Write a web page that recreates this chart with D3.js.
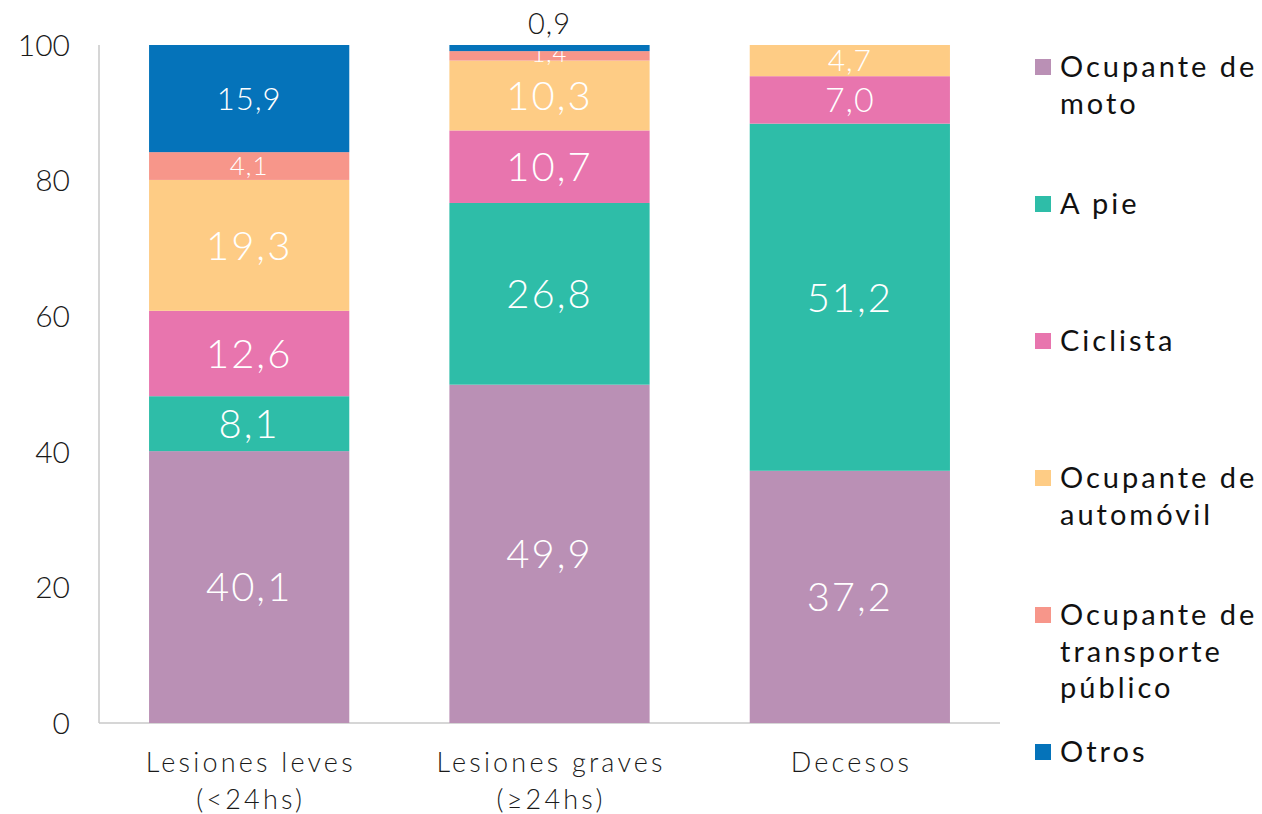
<!DOCTYPE html>
<html><head><meta charset="utf-8">
<script src="https://cdn.jsdelivr.net/npm/d3@7"></script>
<style>body{margin:0;background:#fff}svg{display:block}text{font-family:Lato,"Open Sans",sans-serif}</style>
</head><body><svg id="c" width="1262" height="814"></svg>
<script>
const categories = [["Lesiones leves","(<24hs)"],["Lesiones graves","(≥24hs)"],["Decesos"]];
const catKeys = ["leves","graves","decesos"];
const seriesNames = [["Ocupante de","moto"],["A pie"],["Ciclista"],["Ocupante de","automóvil"],["Ocupante de","transporte","público"],["Otros"]];
const moto = [40.1, 49.9, 37.2];
const pie = [8.1, 26.8, 51.2];
const ciclista = [12.6, 10.7, 7.0];
const auto = [19.3, 10.3, 4.7];
const transporte = [4.1, 1.4, 0];
const otros = [15.9, 0.9, 0];
const colors = ["#BA90B5","#2EBDA8","#E875AE","#FECC85","#F7968A","#0573BA"];
const yTicks = [0,20,40,60,80,100];

// label font sizes (style only), keyed by category index - series index
const labelSizeOverride = {"0-5":31, "0-4":26, "1-4":24, "1-5":29, "2-2":34, "2-3":30};

const series = [moto, pie, ciclista, auto, transporte, otros];
const svg = d3.select("#c");
const x = d3.scaleBand().domain(catKeys).range([99,1000]).paddingInner(1/3).paddingOuter(1/6);
const y = d3.scaleLinear().domain([0,100]).range([723,45]);
const fmt = v => v.toFixed(1).replace(".", ",");

// axes
svg.append("line").attr("x1",99).attr("x2",99).attr("y1",y(100)).attr("y2",y(0)).attr("stroke","#c8c8c8").attr("stroke-width",1.5);
svg.append("line").attr("x1",99).attr("x2",1000).attr("y1",y(0)).attr("y2",y(0)).attr("stroke","#c8c8c8").attr("stroke-width",1.5);
svg.selectAll(".yt").data(yTicks).enter().append("text")
  .attr("x",70).attr("y",d=>y(d)).attr("dy","0.36em").attr("text-anchor","end")
  .attr("font-size",30).attr("font-weight",300).attr("fill","#1a1a1a").text(d=>d);

// bars
catKeys.forEach((k,ci)=>{
  let base = 0;
  series.forEach((s,si)=>{
    const v = s[ci];
    if (v <= 0) return;
    const y0 = y(base), y1 = y(Math.min(base+v,100));
    svg.append("rect").attr("x",x(k)).attr("width",x.bandwidth())
      .attr("y",y1).attr("height",y0-y1).attr("fill",colors[si]);
    const fs = labelSizeOverride[ci+"-"+si] || 40;
    const cx = x(k)+x.bandwidth()/2;
    if (v < 1) {
      svg.append("text").attr("x",cx).attr("y",y(100)-21).attr("dy","0.36em")
        .attr("text-anchor","middle").attr("font-size",fs).attr("font-weight",300)
        .attr("letter-spacing",1).attr("fill","#1a1a1a").text(fmt(v));
    } else {
      const shift = v < 2 ? -2 : 0;
      svg.append("text").attr("x",cx).attr("y",(y0+y1)/2 + shift).attr("dy","0.36em")
        .attr("text-anchor","middle").attr("font-size",fs).attr("font-weight",300)
        .attr("letter-spacing",fs>=40?2:1).attr("fill","#fff").text(fmt(v));
    }
    base += v;
  });
});

// category labels
catKeys.forEach((k,ci)=>{
  const t = svg.append("text").attr("text-anchor","middle").attr("font-size",27).attr("font-weight",300)
    .attr("letter-spacing",3.2).attr("fill","#1a1a1a");
  categories[ci].forEach((line,li)=>{
    t.append("tspan").attr("x",x(k)+x.bandwidth()/2+1.6).attr("y",772+li*37).text(line);
  });
});

// legend
const legY = [67,204,341,478,615,752];
seriesNames.forEach((names,i)=>{
  svg.append("rect").attr("x",1035).attr("y",legY[i]-8).attr("width",16).attr("height",16).attr("fill",colors[i]);
  const t = svg.append("text").attr("font-size",29).attr("letter-spacing",3).attr("fill","#111");
  names.forEach((line,li)=>{
    t.append("tspan").attr("x",1060).attr("y",legY[i]+li*36.5).attr("dy","0.36em").text(line);
  });
});
</script></body></html>
